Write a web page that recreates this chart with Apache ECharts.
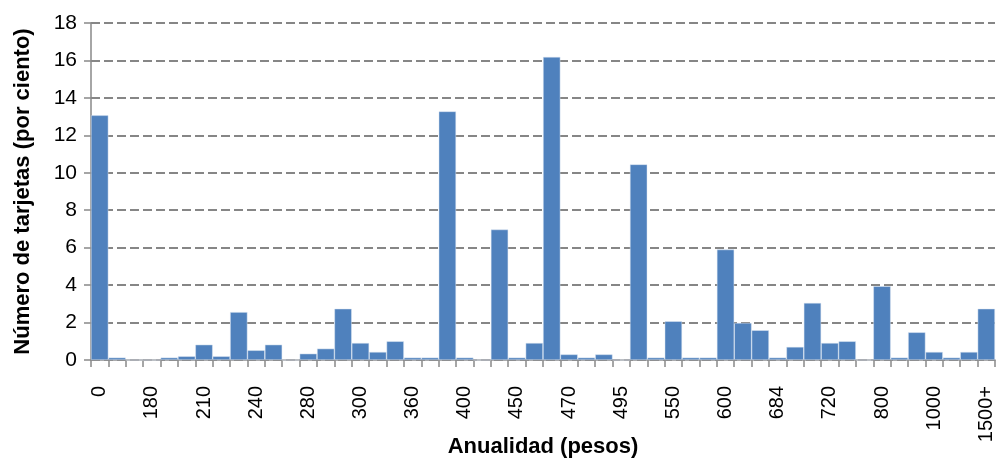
<!DOCTYPE html>
<html>
<head>
<meta charset="utf-8">
<script src="https://cdn.jsdelivr.net/npm/echarts@6/dist/echarts.min.js"></script>
<style>
html,body{margin:0;padding:0;background:#fff;}
#chart{width:1001px;height:470px;}
</style>
</head>
<body>
<div id="chart"></div>
<script>
const categories = ['0','100','120','180','190','200','210','220','230','240','250','260','280','285','290','300','320','350','360','370','380','400','410','420','450','455','460','470','480','490','495','500','520','550','570','580','600','620','650','684','690','700','720','750','780','800','850','900','1000','1100','1200','1500+'];
const values = [13.07,0.13,0,0,0.13,0.2,0.82,0.2,2.56,0.52,0.82,0,0.34,0.61,2.74,0.91,0.43,1.0,0.13,0.13,13.28,0.13,0,6.97,0.13,0.91,16.19,0.3,0.13,0.3,0,10.45,0.13,2.07,0.13,0.13,5.9,1.98,1.59,0.13,0.7,3.05,0.91,1.0,0,3.94,0.13,1.48,0.43,0.13,0.43,2.74];
const yTitle = 'Número de tarjetas (por ciento)';
const xTitle = 'Anualidad (pesos)';

const chart = echarts.init(document.getElementById('chart'), null, {renderer:'canvas'});
const font = 'Arial, "Liberation Sans", sans-serif';
chart.setOption({
  animation: false,
  grid: {left: 91, right: 6, top: 23, bottom: 110, containLabel: false, outerBoundsMode: 'none'},
  xAxis: {
    type: 'category',
    data: categories,
    name: xTitle,
    nameLocation: 'middle',
    nameGap: 76,
    nameMoveOverlap: false,
    nameTextStyle: {fontFamily: font, fontSize: 22, fontWeight: 'bold', color: '#000'},
    axisLine: {lineStyle: {color: '#898989', width: 1.5}},
    axisTick: {show: true, interval: 0, alignWithLabel: false, length: 7, lineStyle: {color: '#898989', width: 1.5}},
    axisLabel: {interval: 2, rotate: 90, margin: 26, fontFamily: font, fontSize: 20, color: '#000'},
    splitLine: {show: false}
  },
  yAxis: {
    type: 'value',
    min: 0, max: 18, interval: 2,
    name: yTitle,
    nameLocation: 'middle',
    nameGap: 57,
    nameMoveOverlap: false,
    nameTextStyle: {fontFamily: font, fontSize: 22, fontWeight: 'bold', color: '#000'},
    axisLine: {show: true, lineStyle: {color: '#898989', width: 1.5}},
    axisTick: {show: true, length: 7, lineStyle: {color: '#898989', width: 1.5}},
    axisLabel: {margin: 14, fontFamily: font, fontSize: 21, color: '#000'},
    splitLine: {show: true, lineStyle: {color: '#868686', width: 2, type: [9, 4]}}
  },
  series: [{
    type: 'bar',
    data: values,
    barCategoryGap: '0%',
    itemStyle: {color: '#4F81BD', borderColor: 'rgba(220,230,242,0.8)', borderWidth: 0.6}
  }]
});
</script>
</body>
</html>
